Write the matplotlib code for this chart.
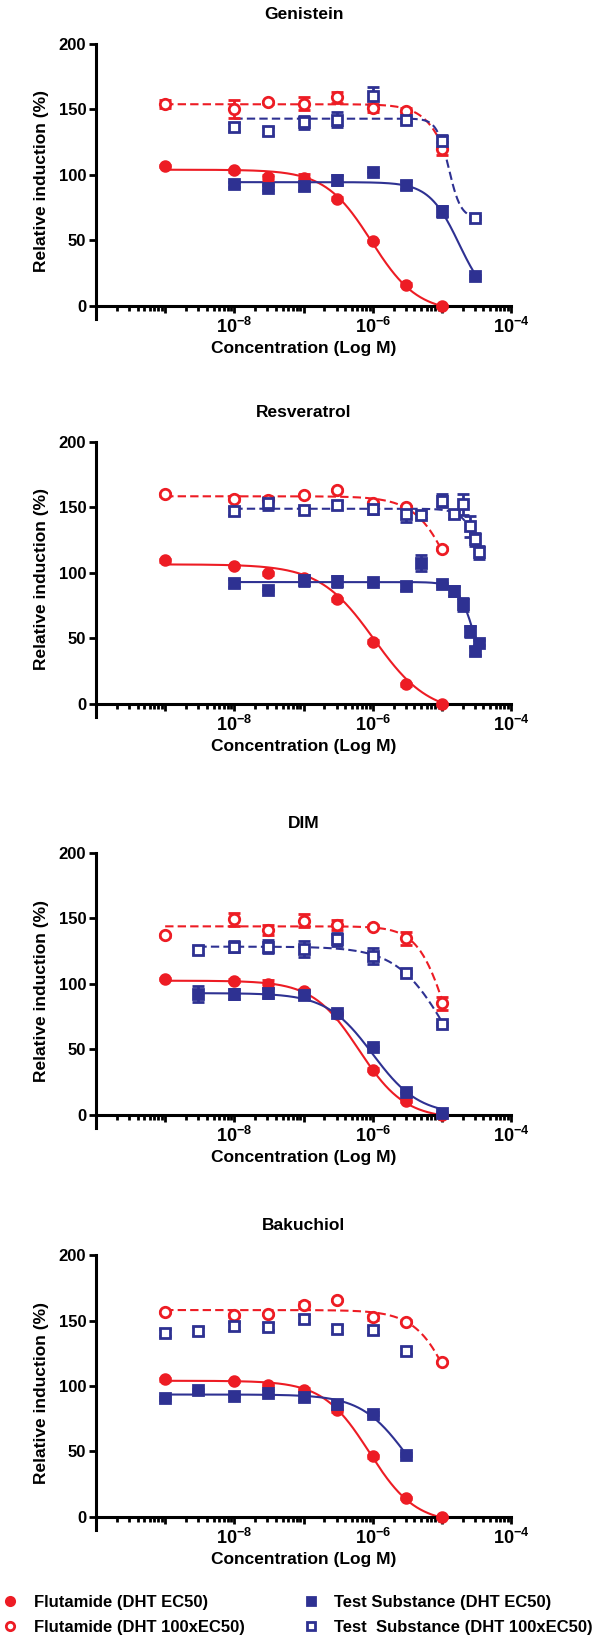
import numpy as np
import matplotlib
matplotlib.use('Agg')
from matplotlib import pyplot as plt
from matplotlib.lines import Line2D
from matplotlib.ticker import FixedLocator, FuncFormatter, LogLocator, NullFormatter

plt.rcParams['font.family'] = ['Liberation Sans', 'DejaVu Sans']
plt.rcParams['font.weight'] = 'bold'
plt.rcParams['mathtext.fontset'] = 'custom'
plt.rcParams['mathtext.rm'] = 'Liberation Sans:bold'
plt.rcParams['mathtext.bf'] = 'Liberation Sans:bold'

RED = '#ED1C24'
BLUE = '#2E3192'

titles = ['Genistein', 'Resveratrol', 'DIM', 'Bakuchiol']

# concentrations as log10(M)
# --- Genistein
gen_flut_x = [-9, -8, -7.52, -7, -6.52, -6, -5.52, -5]
gen_flut = [106.7, 103.4, 98.3, 97.8, 82, 49.6, 16.3, 0]
gen_flut_err = [1, 1, 2, 3, 1, 1, 1, 1]
gen_flut100_x = [-9, -8, -7.52, -7, -6.52, -6, -5.52, -5]
gen_flut100 = [154.3, 150.4, 155.5, 154.3, 159.3, 151.2, 149.2, 120]
gen_flut100_err = [3, 7, 1, 5, 4, 3, 2, 5]
gen_test_x = [-8, -7.52, -7, -6.52, -6, -5.52, -5, -4.52]
gen_test = [92.8, 90.2, 91.7, 96.3, 102.2, 92.2, 72.2, 22.6]
gen_test_err = [2, 2, 3, 4, 1, 3, 4, 1]
gen_test100_x = [-8, -7.52, -7, -6.52, -6, -5.52, -5, -4.52]
gen_test100 = [136.5, 133.4, 140.3, 142.3, 160.1, 142.3, 125.8, 67.3]
gen_test100_err = [3, 3, 5, 6, 7, 2, 5, 1]

# --- Resveratrol
res_flut_x = [-9, -8, -7.52, -7, -6.52, -6, -5.52, -5]
res_flut = [109.6, 105.2, 99.6, 96, 79.7, 47.6, 15, 0]
res_flut_err = [1, 1, 1, 1, 1, 1, 1, 1]
res_flut100_x = [-9, -8, -7.52, -7, -6.52, -6, -5.52, -5]
res_flut100 = [160, 156.7, 156, 159.5, 163.3, 153, 150, 118.5]
res_flut100_err = [1, 2, 1, 1, 1, 1, 1, 1]
res_test_x = [-8, -7.52, -7, -6.52, -6, -5.52, -5.3, -5, -4.82, -4.7, -4.6, -4.52, -4.46]
res_test = [92, 87, 94.3, 93.5, 92.7, 89.9, 107.3, 91.2, 86, 75.9, 55.4, 40.3, 46.7]
res_test_err = [3, 1, 4, 4, 1, 3, 6, 1, 4, 5, 4, 3, 2]
res_test100_x = [-8, -7.52, -7, -6.52, -6, -5.52, -5.3, -5, -4.82, -4.7, -4.6, -4.52, -4.46]
res_test100 = [147.5, 153, 148, 152, 148.7, 144.8, 144, 155, 144.8, 152.5, 135.6, 125.7, 115.7]
res_test100_err = [3, 5, 2, 3, 4, 6, 2, 5, 3, 8, 8, 5, 5]

# --- DIM
dim_flut_x = [-9, -8, -7.52, -7, -6.52, -6, -5.52, -5]
dim_flut = [103.8, 102.5, 100, 95, 77, 34.6, 11, 0]
dim_flut_err = [1, 1, 3, 1, 1, 1, 1, 1]
dim_flut100_x = [-9, -8, -7.52, -7, -6.52, -6, -5.52, -5]
dim_flut100 = [137.2, 149.4, 141.2, 148.3, 145, 143.7, 134.9, 85.3]
dim_flut100_err = [1, 5, 4, 5, 4, 1, 5, 5]
dim_test_x = [-8.52, -8, -7.52, -7, -6.52, -6, -5.52, -5]
dim_test = [92.4, 92.4, 93, 91.6, 77.8, 52, 17.4, 1.5]
dim_test_err = [6, 4, 4, 3, 1, 1, 1, 1]
dim_test100_x = [-8.52, -8, -7.52, -7, -6.52, -6, -5.52, -5]
dim_test100 = [126, 128.5, 128.5, 126.5, 134.1, 121.4, 108.6, 69.2]
dim_test100_err = [3, 4, 5, 6, 5, 6, 1, 1]

# --- Bakuchiol
bak_flut_x = [-9, -8, -7.52, -7, -6.52, -6, -5.52, -5]
bak_flut = [105.2, 103.7, 101.1, 97.1, 81.3, 46.3, 14.5, 0]
bak_flut_err = [1, 1, 1, 1, 1, 1, 1, 1]
bak_flut100_x = [-9, -8, -7.52, -7, -6.52, -6, -5.52, -5]
bak_flut100 = [156.5, 154, 155, 161.9, 165.7, 152.5, 149.2, 118.4]
bak_flut100_err = [1, 1, 1, 2, 1, 2, 1, 1]
bak_test_x = [-9, -8.52, -8, -7.52, -7, -6.52, -6, -5.52]
bak_test = [90.5, 96.6, 92.5, 95, 91.5, 86.4, 78.8, 47.5]
bak_test_err = [1, 1, 1, 2, 2, 2, 1, 1]
bak_test100_x = [-9, -8.52, -8, -7.52, -7, -6.52, -6, -5.52]
bak_test100 = [140.8, 142.3, 145.9, 145.4, 150.9, 143.3, 142.8, 127.1]
bak_test100_err = [3, 3, 3, 3, 3, 3, 3, 3]

# 4PL fit parameters: top, bottom, logIC50, hill
gen_fits = [[104, -5, -6.02, 1.3], [154, 0, -4.7, 2], [94.5, 0, -4.75, 2], [143, 67, -4.9, 5]]
res_fits = [[106.5, -8, -5.98, 1.1], [158.5, 0, -4.7, 1.5], [93, 0, -4.5, 3.5], [149, 0, -4.3, 3.2]]
dim_fits = [[102.5, -3, -6.2, 1.3], [144, 0, -4.9, 2], [93, 0, -6.0, 1.3], [128.5, 0, -4.92, 1.2]]
bak_fits = [[104, -5, -6.05, 1.3], [158, 0, -4.7, 1.5], [93.5, 0, -5.5, 1.3], None]

panels = [
    [(gen_flut_x, gen_flut, gen_flut_err), (gen_flut100_x, gen_flut100, gen_flut100_err),
     (gen_test_x, gen_test, gen_test_err), (gen_test100_x, gen_test100, gen_test100_err)],
    [(res_flut_x, res_flut, res_flut_err), (res_flut100_x, res_flut100, res_flut100_err),
     (res_test_x, res_test, res_test_err), (res_test100_x, res_test100, res_test100_err)],
    [(dim_flut_x, dim_flut, dim_flut_err), (dim_flut100_x, dim_flut100, dim_flut100_err),
     (dim_test_x, dim_test, dim_test_err), (dim_test100_x, dim_test100, dim_test100_err)],
    [(bak_flut_x, bak_flut, bak_flut_err), (bak_flut100_x, bak_flut100, bak_flut100_err),
     (bak_test_x, bak_test, bak_test_err), (bak_test100_x, bak_test100, bak_test100_err)],
]
fits = [gen_fits, res_fits, dim_fits, bak_fits]

legend_labels = ['Flutamide (DHT EC50)', 'Flutamide (DHT 100xEC50)',
                 'Test Substance (DHT EC50)', 'Test  Substance (DHT 100xEC50)']

# style of each series: colour, marker, filled, linestyle
styles = [(RED, 'o', True, '-'), (RED, 'o', False, '--'),
          (BLUE, 's', True, '-'), (BLUE, 's', False, '--')]


def four_pl(lx, p):
    top, bottom, c, h = p
    return bottom + (top - bottom) / (1 + 10 ** ((lx - c) * h))


fig = plt.figure(figsize=(6, 16.41), dpi=100)
bottoms = [0.8056, 0.5631, 0.3126, 0.0676]

for i in range(4):
    ax = fig.add_axes([0.16, bottoms[i], 0.6917, 0.1676])
    for (lx, y, e), p, (col, mk, filled, ls) in zip(panels[i], fits[i], styles):
        lx = np.array(lx)
        xs = 10 ** lx
        if p is not None:
            cx = np.linspace(lx.min(), lx.max(), 300)
            ax.plot(10 ** cx, four_pl(cx, p), color=col, lw=1.5, ls=ls,
                    dashes=(4, 2) if ls == '--' else (None, None), zorder=2)
        ms = 7 if filled else 7.5
        ax.errorbar(xs, y, yerr=e, fmt=mk, color=col, ms=ms,
                    mfc=col if filled else 'white', mec=col, mew=2,
                    elinewidth=2, capsize=4, capthick=2, zorder=3)
    ax.set_xscale('log')
    ax.set_xlim(1e-10, 1e-4)
    ax.set_ylim(-10, 200)
    ax.spines['top'].set_visible(False)
    ax.spines['right'].set_visible(False)
    ax.spines['left'].set_linewidth(2.2)
    ax.spines['bottom'].set_linewidth(2.2)
    ax.spines['bottom'].set_position(('data', 0))
    ax.set_yticks([0, 50, 100, 150, 200])
    ax.xaxis.set_major_locator(FixedLocator([10.0 ** k for k in range(-10, -3)]))
    ax.xaxis.set_major_formatter(FuncFormatter(
        lambda v, pos: r'$\mathbf{10^{%d}}$' % round(np.log10(v)) if round(np.log10(v)) in (-8, -6, -4) else ''))
    ax.xaxis.set_minor_locator(LogLocator(base=10, subs=np.arange(2, 10)))
    ax.xaxis.set_minor_formatter(NullFormatter())
    ax.tick_params(axis='y', length=5, width=2, labelsize=12, pad=2)
    ax.tick_params(axis='x', which='major', length=5, width=2, labelsize=13, pad=3)
    ax.tick_params(axis='x', which='minor', length=3.5, width=2)
    for lab in ax.get_yticklabels():
        lab.set_fontweight('bold')
    ax.set_title(titles[i], fontsize=12.5, fontweight='bold', pad=18)
    ax.set_ylabel('Relative induction (%)', fontsize=12.5, fontweight='bold', labelpad=7)
    ax.set_xlabel('Concentration (Log M)', fontsize=12.5, fontweight='bold', labelpad=3)

handles = []
for col, mk, filled, ls in styles:
    handles.append(Line2D([], [], ls='none', marker=mk, color=col, ms=6,
                          mfc=col if filled else 'white', mec=col, mew=2))
fig.legend(handles, legend_labels, ncol=2, loc='upper left', bbox_to_anchor=(0.006, 0.028),
           frameon=False, prop={'size': 12, 'weight': 'bold'}, handlelength=0.8,
           handletextpad=1.0, columnspacing=3.6, labelspacing=0.6, borderpad=0, borderaxespad=0)

fig.savefig('out.png', dpi=100)
